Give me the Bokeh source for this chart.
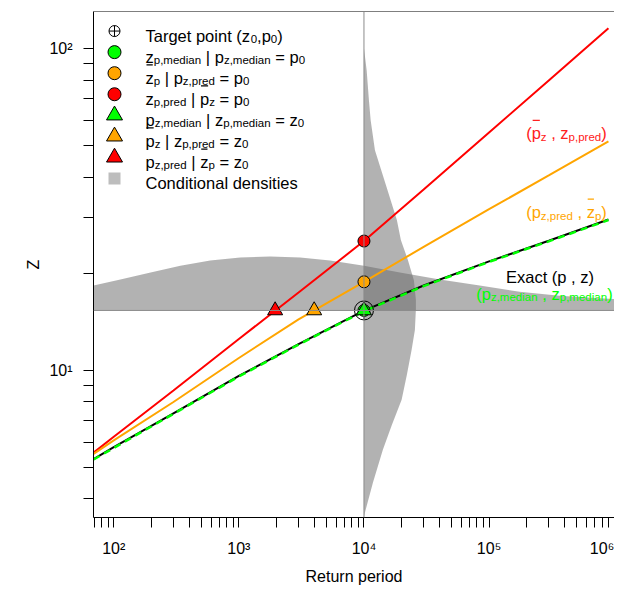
from bokeh.plotting import figure
from bokeh.models import FixedTicker, Range1d, Span, ColumnDataSource
from bokeh.embed import file_html
from bokeh.resources import INLINE
from bokeh.core.properties import value

# ---------------- data ----------------
return_period = [69, 100, 300, 1000, 3000, 10000, 30000, 100000, 300000, 900000]
z_exact  = [5.32, 5.79, 7.38, 9.64, 12.11, 15.38, 18.41, 21.88, 25.35, 29.51]
z_median = [5.30, 5.76, 7.35, 9.60, 12.06, 15.32, 18.33, 21.80, 25.25, 29.40]
z_bar    = [5.52, 6.08, 8.00, 10.96, 14.45, 18.88, 24.27, 31.77, 40.45, 51.64]
z_pred   = [5.57, 6.24, 8.69, 12.56, 17.50, 25.30, 36.60, 55.00, 79.80, 115.90]

p0 = 10000
z0 = 15.4
circle_z = [15.4, 18.9, 25.3]          # z_p,median ; z_bar_p ; z_p,pred  at p0
triangle_p = [10000, 4000, 1950]       # p_z,median ; p_bar_z ; p_z,pred  at z0

# conditional density of p given z0 (upper edge of the band above z0)
dens_h_p = [69, 113, 197, 341, 590, 1025, 1778, 3085, 5354, 10000, 19360,
            40360, 84140, 175400, 365700, 762400, 1320000]
dens_h_z = [18.4, 19.2, 20.2, 21.2, 22.0, 22.5, 22.65, 22.5, 22.0, 21.2, 20.2,
            19.2, 18.4, 17.6, 17.1, 16.8, 16.6]
# conditional density of z given p0 (right edge of the band right of p0)
dens_v_z = [100.4, 85.7, 69.2, 60.0, 48.4, 37.2, 29.4, 25.5, 22.1, 19.1, 16.6,
            15.5, 13.4, 11.6, 9.72, 8.13, 6.80, 5.69, 4.50, 3.63, 3.50]
dens_v_p = [10000, 10510, 10960, 11310, 12240, 15170, 18320, 19720, 22440, 25060,
            26000, 26000, 25530, 24020, 22030, 20000, 16730, 14180, 11800, 10180, 10000]

x_major = [100, 1000, 10000, 100000, 1000000]
x_labels = ["10²", "10³", "10⁴", "10⁵", "10⁶"]
y_major = [10, 100]
y_labels = ["10¹", "10²"]

# ---------------- layout ----------------
W, H = 614, 587
BL, BR, BT, BB = 93, 0, 11, 69
XL0, DX = 1.838, 125.1
YL0, DY = 0.5442, 322.5
XL1 = XL0 + (W - BL - BR) / DX
YL1 = YL0 + (H - BT - BB) / DY
FONT = "Liberation Sans"


def to_data(px, py):
    fx = px - BL
    fy = (H - BB) - py
    return 10 ** (XL0 + fx / DX), 10 ** (YL0 + fy / DY)


p = figure(width=W, height=H, x_axis_type="log", y_axis_type="log",
           x_range=Range1d(10 ** XL0, 10 ** XL1), y_range=Range1d(10 ** YL0, 10 ** YL1),
           output_backend="svg", toolbar_location=None,
           min_border_left=BL, min_border_right=BR, min_border_top=BT, min_border_bottom=BB)
p.grid.visible = False
p.outline_line_color = None
p.background_fill_color = "white"
p.border_fill_color = "white"

# The last decade (10^6) sits at the canvas edge, so its label is carried by the
# 8x10^5 tick mark (a tick that is drawn anyway) to keep it fully visible.
edge_tick = 8 * x_major[-2]
x_ticks_major = x_major[:-1] + [edge_tick]
x_minor = [70, 80, 90] + [k * 10 ** e for e in range(2, 6) for k in range(2, 10)] + [x_major[-1]]
x_minor = [t for t in x_minor if t != edge_tick]
y_minor = [4, 5, 6, 7, 8, 9] + [k * 10 for k in range(2, 10)]
p.xaxis.ticker = FixedTicker(ticks=x_ticks_major, minor_ticks=x_minor)
p.yaxis.ticker = FixedTicker(ticks=y_major, minor_ticks=y_minor)
p.xaxis.major_label_overrides = dict(zip(x_ticks_major, x_labels))
p.yaxis.major_label_overrides = dict(zip(y_major, y_labels))
for ax in (p.xaxis, p.yaxis):
    ax.major_tick_out = 10
    ax.major_tick_in = 0
    ax.minor_tick_out = 10
    ax.minor_tick_in = 0
    ax.axis_line_color = "black"
    ax.major_tick_line_color = "black"
    ax.minor_tick_line_color = "black"
    ax.major_label_text_font = FONT
    ax.major_label_text_font_size = "16px"
    ax.major_label_text_color = "black"
    ax.axis_label_text_font = FONT
    ax.axis_label_text_font_size = "16px"
    ax.axis_label_text_font_style = "normal"
    ax.axis_label_text_color = "black"
p.xaxis.axis_label = "Return period"
p.yaxis.axis_label = "Z"
p.xaxis.major_label_standoff = 12
p.yaxis.major_label_standoff = 11
p.xaxis.axis_label_standoff = 8
p.yaxis.axis_label_standoff = 4
p.add_layout(Span(location=10 ** YL1, dimension="width", line_color="black", line_width=1))

# ---------------- densities ----------------
DENS = "#666666"
p.patch(dens_h_p + dens_h_p[::-1], dens_h_z + [z0] * len(dens_h_p),
        fill_color=DENS, fill_alpha=0.5, line_color=None)
p.patch(dens_v_p + [p0] * len(dens_v_p), dens_v_z + dens_v_z[::-1],
        fill_color=DENS, fill_alpha=0.5, line_color=None)

p.add_layout(Span(location=p0, dimension="height", line_color="#8c8c8c", line_width=1))
p.add_layout(Span(location=z0, dimension="width", line_color="#8c8c8c", line_width=1))

# ---------------- curves ----------------
p.line(return_period, z_pred, line_color="#FF0000", line_width=2)
p.line(return_period, z_bar, line_color="#FFA500", line_width=2)
p.line(return_period, z_exact, line_color="black", line_width=2)
p.line(return_period, z_median, line_color="#00FF00", line_width=2.5, line_dash="7 5")

# ---------------- points ----------------
COLS = ["#00FF00", "#FFA500", "#FF0000"]
p.scatter([p0], [z0], marker="circle_cross", size=19, fill_color=None,
          line_color="black", line_width=1)
p.scatter([p0] * 3, circle_z, marker="circle", size=12, fill_color=COLS,
          line_color="black", line_width=1)
p.scatter(triangle_p, [z0] * 3, marker="triangle", size=15, fill_color=COLS,
          line_color="black", line_width=1)

# ---------------- rich text helpers ----------------
AW = {' ': 278, '(': 333, ')': 333, ',': 278, '|': 260, '=': 584, '0': 556,
      'a': 556, 'c': 500, 'd': 556, 'e': 556, 'g': 556, 'h': 556, 'i': 222,
      'l': 222, 'm': 833, 'n': 556, 'o': 556, 'p': 556, 'r': 333, 's': 500,
      't': 278, 'u': 556, 'x': 500, 'z': 500, 'T': 611, 'C': 722, 'E': 667}
F = 16.5
SUB = 0.7
TX, TY, TT, TS, TC = [], [], [], [], []
BX0, BX1, BY, BC = [], [], [], []


def tw(s, size):
    w = sum(AW.get(c, 556) for c in s)
    if "Ta" in s:
        w -= 74
    return w * size / 1000.0


def rich(x0, base, pieces, color, align="left"):
    sizes = [F * SUB if k == "s" else F for t, k in pieces]
    widths = [tw(t, s) for (t, k), s in zip(pieces, sizes)]
    x = x0 - sum(widths) / 2 if align == "center" else x0
    for (t, k), w, size in zip(pieces, widths, sizes):
        lead = len(t) - len(t.lstrip(" "))
        core = t.strip(" ")
        xs = x + lead * AW[" "] * size / 1000.0
        wc = tw(core, size)
        yb = base + 3.5 if k == "s" else base
        dx, dy = to_data(xs, yb)
        TX.append(dx); TY.append(dy); TT.append(core)
        TS.append("%.1fpx" % size); TC.append(color)
        if k == "b":
            a, ybar = to_data(xs + 1.0, base - 13)
            b, _ = to_data(xs + wc - 1.0, base - 13)
            BX0.append(a); BX1.append(b); BY.append(ybar); BC.append(color)
        x += w


# annotations on the right
rich(566, 133, [("(", "n"), ("p", "b"), ("z", "s"), (" , ", "n"), ("z", "n"),
                ("p,pred", "s"), (")", "n")], "#FF2020", "center")
rich(566, 212, [("(", "n"), ("p", "n"), ("z,pred", "s"), (" , ", "n"), ("z", "b"),
                ("p", "s"), (")", "n")], "#FFA500", "center")
rich(549.5, 277, [("Exact (p , z)", "n")], "black", "center")
rich(544, 294, [("(", "n"), ("p", "n"), ("z,median", "s"), (" , ", "n"), ("z", "n"),
                ("p,median", "s"), (")", "n")], "#00FF00", "center")

# legend
rows = [
    [("Target point (z", "n"), ("0", "s"), (",p", "n"), ("0", "s"), (")", "n")],
    [("z", "n"), ("p,median", "s"), (" | ", "n"), ("p", "n"), ("z,median", "s"), (" = ", "n"), ("p", "n"), ("0", "s")],
    [("z", "b"), ("p", "s"), (" | ", "n"), ("p", "n"), ("z,pred", "s"), (" = ", "n"), ("p", "n"), ("0", "s")],
    [("z", "n"), ("p,pred", "s"), (" | ", "n"), ("p", "b"), ("z", "s"), (" = ", "n"), ("p", "n"), ("0", "s")],
    [("p", "n"), ("z,median", "s"), (" | ", "n"), ("z", "n"), ("p,median", "s"), (" = ", "n"), ("z", "n"), ("0", "s")],
    [("p", "b"), ("z", "s"), (" | ", "n"), ("z", "n"), ("p,pred", "s"), (" = ", "n"), ("z", "n"), ("0", "s")],
    [("p", "n"), ("z,pred", "s"), (" | ", "n"), ("z", "b"), ("p", "s"), (" = ", "n"), ("z", "n"), ("0", "s")],
    [("Conditional densities", "n")],
]
ROW0, ROWH, MX, TXT_X = 35.2, 21.1, 114, 145
markers = [("circle_cross", None, 11), ("circle", COLS[0], 13), ("circle", COLS[1], 13),
           ("circle", COLS[2], 13), ("triangle", COLS[0], 16), ("triangle", COLS[1], 16),
           ("triangle", COLS[2], 16), ("square", "#bdbdbd", 12)]
for i, (pieces, (mk, fc, sz)) in enumerate(zip(rows, markers)):
    base = ROW0 + ROWH * i
    rich(TXT_X, base, pieces, "black")
    mx, my = to_data(MX, base - 4.6)
    if mk == "square":
        p.scatter([mx], [my], marker=mk, size=sz, fill_color=fc, line_color=None)
    else:
        p.scatter([mx], [my], marker=mk, size=sz, fill_color=fc,
                  line_color="black", line_width=1)

p.segment(x0=BX0, y0=BY, x1=BX1, y1=BY, line_color=BC, line_width=1.2)
src = ColumnDataSource(dict(x=TX, y=TY, t=TT, fs=TS, c=TC))
p.text(x="x", y="y", text="t", text_font_size="fs", text_color="c", source=src,
       text_baseline="alphabetic", text_align="left", text_font=value(FONT))

open("out.html", "w").write(file_html(p, INLINE))
